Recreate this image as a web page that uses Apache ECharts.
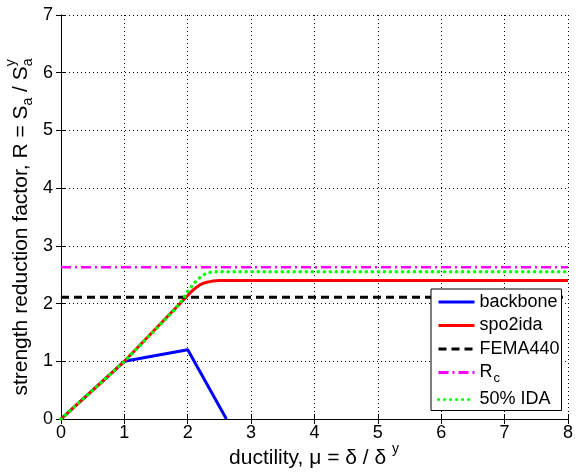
<!DOCTYPE html>
<html>
<head>
<meta charset="utf-8">
<script src="https://cdn.jsdelivr.net/npm/echarts@6/dist/echarts.min.js"></script>
<style>
html,body{margin:0;padding:0;background:#fff;}
#chart{width:576px;height:476px;}
</style>
</head>
<body>
<div id="chart"></div>
<script>
// ---- data ----
const xTicks = [0, 1, 2, 3, 4, 5, 6, 7, 8];
const yTicks = [0, 1, 2, 3, 4, 5, 6, 7];
const seriesNames = ['backbone', 'spo2ida', 'FEMA440', 'Rc', '50% IDA'];

const backboneX = [0, 1, 2, 2.61];
const backboneY = [0, 1, 1.2, 0];

const spo2idaX = [0, 1, 2.0, 2.05, 2.1, 2.15, 2.2, 2.25, 2.3, 2.35, 2.4, 2.5, 2.6, 8];
const spo2idaY = [0, 1, 2.14, 2.20, 2.25, 2.29, 2.33, 2.355, 2.37, 2.38, 2.39, 2.40, 2.40, 2.40];

const femaX = [0, 8];
const femaY = [2.11, 2.11];

const rcX = [0, 8];
const rcY = [2.63, 2.63];

const idaX = [0, 1, 1.8, 1.9, 1.95, 2.0, 2.05, 2.1, 2.15, 2.2, 2.25, 2.3, 2.35, 2.4, 8];
const idaY = [0, 1, 1.9, 2.04, 2.12, 2.21, 2.28, 2.35, 2.41, 2.46, 2.50, 2.52, 2.54, 2.55, 2.55];

function pairs(xs, ys) { return xs.map((x, i) => [x, ys[i]]); }

const FONT = '"Liberation Sans", Arial, Helvetica, sans-serif';
const tickFont = 18;
const legendFont = 18;
const titleFont = 21;

const ctx = document.createElement('canvas').getContext('2d');
function tw(t, size) { ctx.font = size + 'px ' + FONT; return ctx.measureText(t).width; }

const chart = echarts.init(document.getElementById('chart'), null, {renderer: 'canvas'});

const gridL = 61, gridT = 15, gridR = 8, gridB = 57;

function mkX(pos, show) {
  return {
    type: 'value', position: pos, min: xTicks[0], max: xTicks[xTicks.length - 1], interval: 1,
    axisLine: {show: true, lineStyle: {color: '#000', width: 1}},
    axisTick: {show: true, inside: true, length: 5, lineStyle: {color: '#000'}},
    axisLabel: {show: show, color: '#000', fontSize: tickFont, fontFamily: FONT, margin: 5},
    splitLine: {show: show, lineStyle: {color: '#000', type: [1, 3], width: 1}}
  };
}
function mkY(pos, show) {
  return {
    type: 'value', position: pos, min: yTicks[0], max: yTicks[yTicks.length - 1], interval: 1,
    axisLine: {show: true, lineStyle: {color: '#000', width: 1}},
    axisTick: {show: true, inside: true, length: 5, lineStyle: {color: '#000'}},
    axisLabel: {show: show, color: '#000', fontSize: tickFont, fontFamily: FONT, margin: 8},
    splitLine: {show: show, lineStyle: {color: '#000', type: [1, 3], width: 1}}
  };
}

// y title pieces (rotated)
const yMain = 'strength reduction factor, R = S';
const yMid = ' / S';
const subSize = 14;
const wMain = tw(yMain, titleFont), wSub = tw('a', subSize), wMid = tw(yMid, titleFont);
const yW = wMain + wSub + wMid + wSub;
const y0 = -yW / 2;

// x title pieces
const xMain = 'ductility, μ = δ / δ ';
const wx = tw(xMain, titleFont) + tw('y', subSize);
const x0 = 314 - wx / 2;

const tStyle = (text, x, y, size) => ({type: 'text', x: x, y: y, style: {text: text, fill: '#000', font: size + 'px ' + FONT, textAlign: 'left', textVerticalAlign: 'middle'}});

const option = {
  animation: false,
  backgroundColor: '#fff',
  grid: {left: gridL, top: gridT, right: gridR, bottom: gridB, containLabel: false},
  xAxis: [mkX('bottom', true), mkX('top', false)],
  yAxis: [mkY('left', true), mkY('right', false)],
  legend: {
    orient: 'vertical', left: 431, top: 289,
    padding: [4, 2, 2, 6],
    itemWidth: 36, itemHeight: 14, itemGap: 5.5,
    itemStyle: {opacity: 0},
    lineStyle: {width: 3},
    backgroundColor: '#fff', borderColor: '#000', borderWidth: 1, borderRadius: 0,
    data: seriesNames,
    formatter: function (n) { return n === 'Rc' ? 'R{sub|c}' : n; },
    textStyle: {color: '#000', fontSize: legendFont, fontFamily: FONT, lineHeight: 18,
      rich: {sub: {fontSize: 13, fontFamily: FONT, color: '#000', padding: [12, 0, 0, 1]}}}
  },
  series: [
    {name: 'backbone', type: 'line', data: pairs(backboneX, backboneY), symbol: 'none',
      lineStyle: {color: '#0000ff', width: 3}, itemStyle: {color: '#0000ff'}},
    {name: 'spo2ida', type: 'line', data: pairs(spo2idaX, spo2idaY), symbol: 'none',
      lineStyle: {color: '#ff0000', width: 3}, itemStyle: {color: '#ff0000'}},
    {name: 'FEMA440', type: 'line', data: pairs(femaX, femaY), symbol: 'none',
      lineStyle: {color: '#000000', width: 3, type: [8, 5]}, itemStyle: {color: '#000000'}},
    {name: 'Rc', type: 'line', data: pairs(rcX, rcY), symbol: 'none',
      lineStyle: {color: '#ff00ff', width: 2.5, type: [10, 4, 2, 4]}, itemStyle: {color: '#ff00ff'}},
    {name: '50% IDA', type: 'line', data: pairs(idaX, idaY), symbol: 'none',
      lineStyle: {color: '#00ff00', width: 3.5, type: [0.01, 6], cap: 'round'}, itemStyle: {color: '#00ff00'}}
  ],
  graphic: [
    {type: 'group', x: 21, y: 227, rotation: Math.PI / 2, children: [
      tStyle(yMain, y0, 0, titleFont),
      tStyle('a', y0 + wMain, 7, subSize),
      tStyle(yMid, y0 + wMain + wSub, 0, titleFont),
      tStyle('a', y0 + wMain + wSub + wMid, 7, subSize),
      tStyle('y', y0 + wMain + wSub + wMid, -10, subSize)
    ]},
    {type: 'group', x: 0, y: 0, children: [
      tStyle(xMain, x0, 458, titleFont),
      tStyle('y', x0 + tw(xMain, titleFont), 449, subSize)
    ]}
  ]
};
chart.setOption(option);
</script>
</body>
</html>
